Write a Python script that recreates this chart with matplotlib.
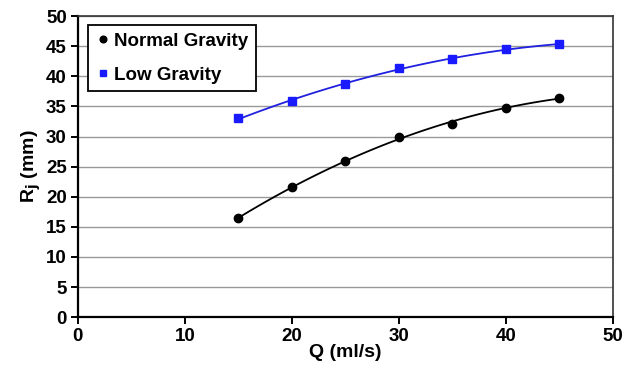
import matplotlib
matplotlib.use("Agg")
import matplotlib.pyplot as plt
import numpy as np

plt.rcParams['font.family'] = ['Liberation Sans', 'DejaVu Sans']
plt.rcParams['font.weight'] = 'bold'

# flow rate Q (ml/s) and jet radius Rj (mm)
q = [15, 20, 25, 30, 35, 40, 45]
r_normal = [16.4, 21.6, 26.0, 29.9, 32.0, 34.8, 36.4]
r_low = [33.0, 35.9, 38.7, 41.4, 42.9, 44.5, 45.3]

fig = plt.figure(figsize=(6.28, 3.74), dpi=100)
ax = fig.add_axes([0.124, 0.152, 0.852, 0.805])

# trendlines (2nd order fit, like a spreadsheet trendline)
qq = np.linspace(q[0], q[-1], 100)
fit_n = np.polyfit(q, r_normal, 2)
fit_l = np.polyfit(q, r_low, 2)
ax.plot(qq, np.polyval(fit_n, qq), color='black', lw=1.3, zorder=3)
ax.plot(qq, np.polyval(fit_l, qq), color='#2020e0', lw=1.3, zorder=3)

ax.plot(q, r_normal, 'o', color='black', ms=6, label='Normal Gravity', zorder=4)
ax.plot(q, r_low, 's', color='#1a1aff', ms=6, label='Low Gravity', zorder=4)

ax.set_xlim(0, 50)
ax.set_ylim(0, 50)
ax.set_xticks(np.arange(0, 51, 10))
ax.set_yticks(np.arange(0, 51, 5))
ax.yaxis.grid(True, color='#999999', lw=1.0)
ax.set_axisbelow(True)

for s in ['left', 'bottom']:
    ax.spines[s].set_linewidth(1.6)
for s in ['right', 'top']:
    ax.spines[s].set_linewidth(1.2)
    ax.spines[s].set_color('#333333')
ax.tick_params(direction='out', length=5, width=1.4, labelsize=13.5, pad=3)

ax.set_xlabel('Q (ml/s)', fontsize=14, fontweight='bold', labelpad=-1)
ax.set_ylabel('R$_\\mathbf{j}$ (mm)', fontsize=14, fontweight='bold', labelpad=2)

leg = ax.legend(loc='upper left', bbox_to_anchor=(0.019, 0.97), borderaxespad=0,
                fancybox=False, edgecolor='black', framealpha=1, fontsize=13.5,
                handletextpad=0.2, handlelength=0.8, labelspacing=0.9,
                borderpad=0.4, markerscale=0.8)
leg.get_frame().set_linewidth(1.3)

fig.savefig('out.png', dpi=100)
